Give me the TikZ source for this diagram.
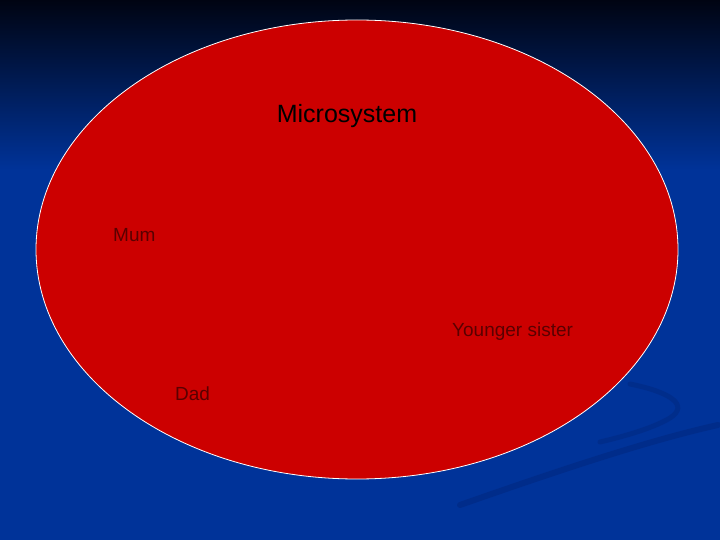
\documentclass[tikz,border=0pt]{standalone}
\usepackage{fontspec}
\setmainfont{Liberation Sans}
\usetikzlibrary{shapes.geometric}
\definecolor{bgtop}{RGB}{0,4,18}
\definecolor{bgblue}{RGB}{0,51,153}
\definecolor{swoosh}{RGB}{0,36,120}
\definecolor{ellred}{RGB}{204,0,0}
\definecolor{lbl}{RGB}{90,0,0}
\tikzset{
  small label/.style={anchor=west, text=lbl, font=\fontsize{19}{22}\selectfont, inner sep=0pt},
  title label/.style={text=black, font=\fontsize{25}{29}\selectfont, inner sep=0pt},
}
\begin{document}
\begin{tikzpicture}[x=1pt,y=-1pt]
\useasboundingbox (0,0) rectangle (720,540);
\fill[bgblue] (0,0) rectangle (720,540);
\shade[top color=bgtop, bottom color=bgblue] (0,0) rectangle (720,170);
% swoosh
\draw[swoosh, opacity=0.45, line width=6pt, line cap=round] (460,505) .. controls (560,470) and (650,440) .. (718,425);
\draw[swoosh, opacity=0.4, line width=5pt, line cap=round] (630,384) .. controls (670,392) and (690,405) .. (670,418) .. controls (655,427) and (630,435) .. (600,442);
% ellipse
\node[draw=white, line width=0.8pt, fill=ellred, ellipse, minimum width=642, minimum height=459, inner sep=0pt] (micro) at (357,249.5) {};
\node[title label] (title) at (347,116) {Microsystem};
\node[small label] (mum) at (113,235) {Mum};
\node[small label] (sister) at (452,332) {Younger sister};
\node[small label] (dad) at (175,394) {Dad};
\end{tikzpicture}
\end{document}
